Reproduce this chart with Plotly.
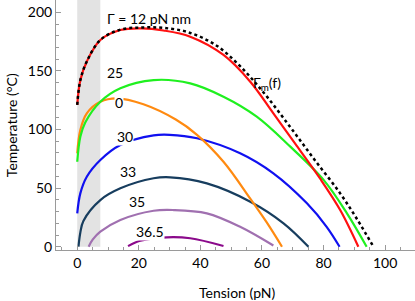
import plotly.graph_objects as go

# Tension (pN) and temperature (°C) for each curve
red_x = [0, 1, 3.1, 7.5, 14, 21, 28, 36.7, 47.5, 56.2, 63.7, 71.3, 78.9, 85.4, 91.3]
red_y = [121, 142, 158, 176.4, 184.9, 186.3, 184.5, 179.2, 163.6, 140.8, 113.8, 86, 58, 31.3, 0]

gm_x = [0, 1, 3.1, 7.5, 14, 21, 28, 36, 45, 52.9, 61, 69.2, 77, 85.4, 91, 96.2]
gm_y = [121, 142, 158, 176.4, 185.2, 187, 186.7, 183, 172, 154, 130, 102, 74.5, 45.5, 23, 0]

g25_x = [0, 1, 2.6, 7.5, 14, 24.8, 36.7, 47.5, 58.3, 69.2, 80, 87.6, 94]
g25_y = [72.5, 93.9, 106, 123.7, 135.2, 142.2, 139.4, 128, 111, 85.4, 57, 28.5, 0]

g0_x = [0, 1, 3.1, 7.5, 12.9, 21.5, 32, 38.9, 47.5, 56.2, 61.6, 66.5]
g0_y = [79.7, 99.6, 113.8, 123.7, 126.6, 121.5, 108.5, 95.5, 72.5, 41, 20.5, 0]

g30_x = [0, 1, 3.1, 7.5, 14, 24.8, 30, 38.9, 52.9, 63.7, 74.6, 81, 85.2]
g30_y = [28.5, 45.5, 59.7, 74, 86.8, 95, 95.5, 92.5, 79.7, 62.6, 37, 17, 0]

g33_x = [0.4, 1, 2, 7.5, 14, 24.8, 30.2, 42.1, 56.2, 67, 75.1]
g33_y = [0, 12, 22, 39.8, 49.8, 58.4, 59.2, 54, 38.4, 20, 0]

g35_x = [3.7, 5, 7.5, 14, 24.8, 31.3, 42.1, 52.9, 63.7]
g35_y = [0, 6, 12.8, 22.8, 30.7, 31.3, 28.5, 17, 1]

g365_x = [16.5, 20.5, 29.1, 36.7, 47.5]
g365_y = [0.5, 5.1, 8, 7.2, 0.6]

x_ticks = [0, 20, 40, 60, 80, 100]
y_ticks = [0, 50, 100, 150, 200]

FONT = "Lato"
AX = "#9a9a9a"

series = [
    (g365_x, g365_y, "#8b0a8b", "solid", 2.2),
    (g35_x, g35_y, "#a070b0", "solid", 2.2),
    (g33_x, g33_y, "#173d5e", "solid", 2.2),
    (g30_x, g30_y, "#1010f0", "solid", 2.2),
    (g0_x, g0_y, "#ff8a10", "solid", 2.2),
    (g25_x, g25_y, "#1ff01f", "solid", 2.2),
    (red_x, red_y, "#ff1010", "solid", 2.2),
    (gm_x, gm_y, "#000000", "dot", 2.5),
]

fig = go.Figure()
for xs, ys, col, dash, w in series:
    fig.add_trace(go.Scatter(x=xs, y=ys, mode="lines",
                             line=dict(color=col, width=w, dash=dash, shape="spline", smoothing=1.0),
                             showlegend=False, hoverinfo="skip"))

# shaded band
fig.add_shape(type="rect", xref="x", yref="y", x0=0, x1=7.5, y0=0, y1=215,
              fillcolor="#e3e3e3", line=dict(width=0), layer="below")

labels = [
    ("25", 12.3, 148.8),
    ("0", 13.7, 122.9),
    ("30", 15.4, 93.9),
    ("33", 16.6, 64),
    ("35", 19.4, 38.4),
    ("36.5", 23.7, 12.7),
]
for txt, x, y in labels:
    fig.add_annotation(x=x, y=y, text=txt, showarrow=False, xanchor="center", yanchor="middle",
                       font=dict(family=FONT, size=14, color="black"),
                       bgcolor="white", borderpad=0)

fig.add_annotation(x=9.1, y=195, text="Γ = 12 pN nm", showarrow=False, xanchor="left",
                   yanchor="middle", font=dict(family=FONT, size=14, color="black"))

fig.add_annotation(x=56.4, y=139, text="Γ<sub>m</sub>(f)", showarrow=False, xanchor="left",
                   yanchor="middle", font=dict(family=FONT, size=14, color="black"))

# axis titles
fig.add_annotation(xref="paper", yref="paper", x=0.504, y=-0.168, text="Tension (pN)",
                   showarrow=False, xanchor="center", yanchor="middle",
                   font=dict(family=FONT, size=14, color="black"))
fig.add_annotation(xref="paper", yref="paper", x=-0.125, y=0.5, text="Temperature (°C)",
                   showarrow=False, xanchor="center", yanchor="middle", textangle=-90,
                   font=dict(family=FONT, size=14, color="black"))

axis_common = dict(
    showgrid=False, zeroline=False, showline=True, linecolor=AX, linewidth=1,
    ticks="inside", ticklen=5, tickcolor=AX, tickwidth=1, automargin=False,
    tickfont=dict(family=FONT, size=14, color="black"),
)

fig.update_layout(
    width=415, height=301,
    margin=dict(l=56, r=0, t=0, b=51),
    paper_bgcolor="white", plot_bgcolor="white",
    xaxis=dict(range=[-6.9, 109.7], tickvals=x_ticks,
               minor=dict(ticks="inside", dtick=5, ticklen=3, tickcolor=AX),
               **axis_common),
    yaxis=dict(range=[-2.8, 210.5], tickvals=y_ticks,
               minor=dict(ticks="inside", dtick=10, ticklen=3, tickcolor=AX),
               **axis_common),
)

fig.write_html("out.html", config={"displayModeBar": False},
               post_script="document.body.style.margin='0';")
